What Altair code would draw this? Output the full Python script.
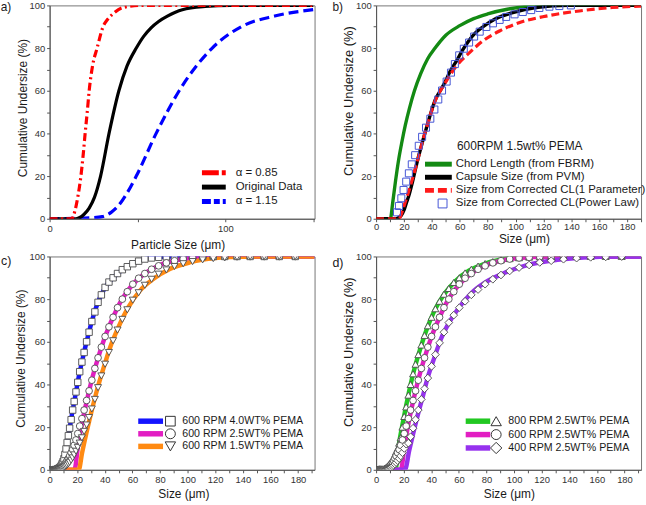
import altair as alt
import pandas as pd

FONT = "Liberation Sans"

# ---------------- a) simulated size distributions ----------------
A_SIZE_085 = [0, 12.5, 14.5, 16.2, 17.8, 19.1, 20.2, 21.4, 22.5, 24.5, 27.0, 30.4, 33.0, 36.0, 41.7, 53.0, 150]
A_CUM_085 = [0, 0, 4, 11, 20, 30, 40, 50, 60, 72, 80, 90, 93.5, 96, 99, 100, 100]
A_SIZE_ORIG = [0, 15, 19.5, 22.5, 25.5, 29, 33.8, 39.4, 44, 49.3, 53.5, 57.7, 62, 67, 75.5, 88.5, 103, 150]
A_CUM_ORIG = [0, 0, 2, 5, 10, 20, 40, 60, 71.5, 80, 85.5, 89.5, 92.5, 95, 98, 99.5, 100, 100]
A_SIZE_115 = [0, 25, 30, 35, 39, 44, 49.3, 60.6, 73.7, 92.5, 109, 128, 150]
A_CUM_115 = [0, 0.5, 1, 3, 6, 12, 20, 40, 60, 80, 90, 95, 98]

# ---------------- b) 600RPM 1.5wt% PEMA ----------------
B_SIZE_FBRM = [0, 10.2, 12, 14, 16, 18.5, 21, 24, 27.5, 32, 37, 42.3, 50, 60, 70, 80, 95, 110, 130, 190]
B_CUM_FBRM = [0, 0, 8, 18, 27, 36, 44, 52, 60, 68, 75, 80, 86, 90.5, 93.8, 96, 98.3, 99.6, 100, 100]
B_SIZE_PVM = [0, 14, 16, 18, 20, 22, 23.3, 26, 29.2, 32, 36.3, 39, 42.2, 46, 49.4, 53, 57.7, 62, 66, 71, 76.7, 85, 98, 114.7, 138, 190]
B_CUM_PVM = [0, 0, 0.5, 1.5, 4, 8, 10.4, 17, 26, 33, 43, 49, 55.4, 60, 64, 69, 74, 79, 83, 87, 90, 93.5, 96.6, 99, 100, 100]
B_SIZE_1P = [0, 16.5, 18, 20, 23, 26, 29.2, 32, 36.3, 42.2, 49.4, 57.7, 67.2, 76.7, 88.5, 103, 122, 145.8, 169.5, 190]
B_CUM_1P = [0, 0, 2, 6, 12, 18.5, 26, 33, 43, 55, 63.5, 71.7, 78, 83.4, 88, 92, 95, 97.4, 99, 99.7]
B_SIZE_PL = [15, 16.4, 18.1, 19.7, 21.6, 23.5, 25.6, 28, 30.6, 33, 35.8, 38.9, 41.8, 44.6, 47.3, 50.6, 53.7,
             56.5, 59.6, 62.9, 66.7, 70.3, 74.3, 79.1, 83.8, 88.6, 93.3, 99.3, 105.2, 111.2, 117.1, 124.3, 131.4, 139.7]
B_CUM_PL = [3, 6, 9.6, 13.5, 17.4, 21.3, 25.5, 29.8, 34.2, 38.4, 42.7, 46.9, 51.2, 55.9, 60.1, 64.3, 68.5,
            72.5, 76.6, 79.7, 82.6, 85.4, 87.7, 89.9, 91.6, 93.2, 94.6, 95.8, 96.9, 97.8, 98.8, 99.4, 99.7, 100]

# ---------------- c) and d) measured classes (um) ----------------
BINS = [1.9, 2.1, 2.2, 2.4, 2.5, 2.7, 2.9, 3.1, 3.3, 3.5, 3.8, 4.0, 4.3, 4.6, 4.9, 5.3, 5.6, 6.0, 6.5, 6.9,
        7.4, 7.9, 8.5, 9.0, 9.7, 10.4, 11.1, 11.9, 12.7, 13.6, 14.5, 15.6, 16.7, 17.8, 19.1, 20.4, 21.8, 23.4,
        25.0, 26.8, 28.6, 30.6, 32.8, 35.1, 37.5, 40.2, 43.0, 46.0, 49.2, 52.7, 56.3, 60.3, 64.5, 69.0, 73.9,
        79.0, 84.6, 90.5, 96.8, 103.6, 110.9, 118.6, 126.9, 135.8, 145.3, 155.5, 166.4, 178.0]

# 600 RPM 4.0WT% PEMA
C_FIT_40_X = [0, 9.1, 11.5, 13.9, 16.3, 18.7, 21.1, 24.2, 27.6, 31.4, 35.5, 40.3, 46.3, 53.5, 61.9, 71.5, 84.7, 192]
C_FIT_40_Y = [0, 0, 8.6, 17, 26.4, 35, 43.5, 52.9, 62.2, 71.5, 79.3, 85.5, 90.2, 94.1, 97.2, 99.2, 100, 100]
C_DATA_40 = [0, 0, 0, 0, 0, 0, 0, 0, 0, 0, 0, 0, 0, 0, 0,
             0.2, 0.3, 0.4, 0.6, 0.8, 1.0, 1.4, 2.0, 2.8, 3.8, 5.2, 7.2, 9.8, 12.8, 16, 19.5, 23.5, 28, 32,
             36.5, 41, 46, 50.5, 55, 60, 64.5, 69.5, 74, 78.5, 82, 85.5, 88, 90, 92, 93.8, 95.2, 96.6, 97.8,
             98.8, 99.3, 99.6, 99.8, 99.9, 100, 100, 100, 100, 100, 100, 100, 100, 100, 100]

# 600 RPM 2.5WT% PEMA (appears in c and d)
FIT_600_25_X = [0, 18, 20.5, 23.4, 27, 30.5, 35.3, 40.1, 46, 52.5, 60.3, 69.3, 80, 95, 112, 125, 192]
FIT_600_25_Y = [0, 0, 10.7, 21.6, 32.5, 42, 52.8, 62.2, 71.5, 80, 87, 92.2, 96, 98.6, 99.7, 100, 100]
DATA_600_25 = [0, 0, 0, 0, 0, 0, 0, 0, 0, 0, 0, 0, 0, 0, 0, 0, 0, 0,
               0.2, 0.3, 0.5, 0.7, 1.0, 1.3, 1.7, 2.2, 2.8, 3.5, 4.3, 5.3, 6.5, 8, 9.5, 11.5, 14, 17, 20.5,
               24, 28, 32.5, 37, 42, 47.5, 52.5, 57.5, 62.5, 67, 71.5, 76, 80, 83.5, 87, 89.8, 92, 94, 95.6,
               97, 98, 98.8, 99.3, 99.6, 99.8, 99.9, 100, 100, 100, 100, 100]

# 600 RPM 1.5WT% PEMA
C_FIT_15_X = [0, 21.1, 23.5, 26.6, 30, 34.3, 38.6, 43.9, 49.9, 57.1, 65.5, 75.1, 87.1, 101.5, 118.3, 137.5, 160, 192]
C_FIT_15_Y = [0, 0, 7.8, 17.1, 26.4, 37.3, 46.7, 57.5, 66.9, 76.2, 84, 89.4, 94.1, 97.2, 99.1, 99.8, 100, 100]
C_DATA_15 = [0, 0, 0, 0, 0, 0, 0, 0, 0, 0, 0, 0, 0, 0, 0, 0, 0, 0, 0, 0, 0,
             0.2, 0.3, 0.5, 0.7, 1.0, 1.3, 1.7, 2.2, 2.8, 3.5, 4.5, 5.6, 7, 8.7, 10.5, 12.5, 15, 18, 21, 24.5,
             28.5, 33, 38.5, 44, 49.5, 55, 60.5, 65.5, 70.5, 75, 79.5, 83, 86.5, 89.3, 91.7, 93.7, 95.3, 96.6,
             97.6, 98.4, 99, 99.4, 99.7, 99.9, 100, 100, 100]

# 800 RPM 2.5WT% PEMA
D_FIT_800_X = [0, 14, 16.2, 19.7, 23.3, 26.8, 31.6, 36.3, 42.3, 49.4, 57.7, 67.2, 79.1, 93.3, 112.4, 130, 192]
D_FIT_800_Y = [0, 0, 10.6, 23.1, 34.8, 44.9, 55.9, 65.2, 74.6, 82.4, 88.6, 93.3, 96.7, 98.8, 99.8, 100, 100]
D_DATA_800 = [0, 0, 0, 0, 0, 0, 0, 0, 0, 0, 0, 0, 0, 0, 0, 0,
              0.2, 0.3, 0.4, 0.5, 0.6, 0.8, 1.0, 1.3, 1.7, 2.2, 3, 4, 5.5, 7, 8.5, 10, 12.5, 15, 20, 25, 29.5,
              35, 40, 45, 49.5, 54, 58.5, 63, 67.5, 71.5, 75.5, 79, 82.3, 85, 87.8, 90, 92.3, 94, 95.5, 96.7,
              97.6, 98.4, 99, 99.4, 99.7, 99.9, 100, 100, 100, 100, 100, 100]

# 400 RPM 2.5WT% PEMA
D_FIT_400_X = [0, 20.9, 24, 26.8, 30.4, 34, 37.5, 42.3, 47, 53, 60.1, 68.4, 79.1, 91, 107.6, 126.6, 150.4, 174, 192]
D_FIT_400_Y = [0, 0, 9, 16.8, 26.2, 34.8, 43.4, 52.7, 61.3, 69.1, 76.1, 82.4, 87.8, 91.7, 95.6, 98, 99.5, 100, 100]
D_DATA_400 = [0, 0, 0, 0, 0, 0, 0, 0, 0, 0, 0, 0, 0, 0, 0, 0, 0, 0, 0, 0,
              0.2, 0.3, 0.4, 0.5, 0.7, 0.9, 1.2, 1.6, 2.1, 2.7, 3.4, 4.3, 5.3, 6.5, 8, 10, 12, 12.5, 15.5,
              19.5, 23.5, 28, 33, 38, 43, 48.5, 54, 59.5, 64.5, 69, 72.5, 76, 79, 82, 84.5, 87, 89.3, 91.3,
              93.2, 94.8, 96, 97.2, 98, 98.7, 99.2, 99.6, 99.8, 100]

ONE = pd.DataFrame({"k": [0]})
W, H = 267, 215
YT = "Cumulative Undersize (%)"
XT = "Size (\u03bcm)"


def enc(dom, xvals, step, xtitle, xtx, xty, ytx, yty, ysize, xpad=2):
    x = alt.X("x:Q", scale=alt.Scale(domain=dom, nice=False, zero=False),
              axis=alt.Axis(values=xvals, labelExpr=f"datum.value % {step} === 0 ? datum.label : ''",
                            title=xtitle, titleX=xtx, titleY=xty, titleBaseline="middle",
                            titleFontSize=12, labelPadding=xpad))
    y = alt.Y("y:Q", scale=alt.Scale(domain=[0, 100], nice=False),
              axis=alt.Axis(values=list(range(0, 101, 10)),
                            labelExpr="datum.value % 20 === 0 ? datum.label : ''",
                            title=YT, titleX=ytx, titleY=yty, titleBaseline="middle",
                            titleFontSize=ysize))
    return x, y


def line(xs, ys, color, width, X, Y, dash=None):
    kw = dict(color=color, strokeWidth=width, interpolate="monotone", clip=True)
    if dash:
        kw["strokeDash"] = dash
    return alt.Chart(pd.DataFrame({"x": xs, "y": ys})).mark_line(**kw).encode(x=X, y=Y)


def points(xs, ys, shape, size, X, Y, stroke="#4a4a4a", fill="white", sw=0.9):
    df = pd.DataFrame({"x": xs, "y": ys})
    if fill is None:
        m = alt.Chart(df).mark_point(shape=shape, size=size, color=stroke, strokeWidth=sw,
                                     opacity=1, clip=True)
    else:
        m = alt.Chart(df).mark_point(shape=shape, size=size, filled=True, fill=fill, stroke=stroke,
                                     strokeWidth=sw, opacity=1, clip=True)
    return m.encode(x=X, y=Y)


def key_line(x1, x2, y, color, width, dash=None):
    kw = dict(color=color, strokeWidth=width)
    if dash:
        kw["strokeDash"] = dash
    return alt.Chart(ONE).mark_rule(**kw).encode(x=alt.value(x1), x2=alt.value(x2), y=alt.value(y))


def key_symbol(x, y, shape, size, stroke="#333", fill="white", sw=1.0):
    if fill is None:
        m = alt.Chart(ONE).mark_point(shape=shape, size=size, color=stroke, strokeWidth=sw, opacity=1)
    else:
        m = alt.Chart(ONE).mark_point(shape=shape, size=size, filled=True, fill=fill, stroke=stroke,
                                      strokeWidth=sw, opacity=1)
    return m.encode(x=alt.value(x), y=alt.value(y))


def label(x, y, text, size, align="left"):
    return alt.Chart(ONE).mark_text(text=text, align=align, baseline="middle", font=FONT,
                                    fontSize=size, color="#1a1a1a").encode(x=alt.value(x), y=alt.value(y))


# ---------------- panel a ----------------
Xa, Ya = enc([0, 150.7], [0, 50, 100, 150], 100, "Particle Size (\u03bcm)", 129, 26, -27.6, 103, 12)
RED_DD = [8, 3.5, 2, 3.5]
BLUE_D = [10, 5]
pa = alt.layer(
    line(A_SIZE_115, A_CUM_115, "#0000ff", 3.2, Xa, Ya, BLUE_D),
    line(A_SIZE_ORIG, A_CUM_ORIG, "#000000", 3.2, Xa, Ya),
    line(A_SIZE_085, A_CUM_085, "#ff0000", 3.2, Xa, Ya, RED_DD),
    key_line(153.5, 177.5, 168.6, "#ff0000", 5, [17, 3, 4, 3]),
    key_line(153.5, 177.5, 183.1, "#000000", 5),
    key_line(153.5, 177.5, 197.6, "#0000ff", 5, [9, 3, 6, 3]),
    label(187.5, 168.6, "\u03b1 = 0.85", 11.5),
    label(187.5, 183.1, "Original Data", 11.5),
    label(187.5, 197.6, "\u03b1 = 1.15", 11.5),
    label(-49.3, 1.7, "a)", 12),
).properties(width=W, height=H)

# ---------------- panel b ----------------
TICKS_190 = list(range(0, 191, 10))
Xb, Yb = enc([0, 190], TICKS_190, 20, XT, 149, 19.5, -27.4, 96, 13, xpad=0)
pb = alt.layer(
    line(B_SIZE_FBRM, B_CUM_FBRM, "#138a13", 3.4, Xb, Yb),
    line(B_SIZE_PVM, B_CUM_PVM, "#000000", 3.4, Xb, Yb),
    line(B_SIZE_1P, B_CUM_1P, "#ff1a1a", 3.2, Xb, Yb, [8, 4]),
    points(B_SIZE_PL, B_CUM_PL, "square", 50, Xb, Yb, stroke="#4656d6", fill=None, sw=1),
    label(144.8, 141.7, "600RPM 1.5wt% PEMA", 12, align="center"),
    key_line(49.3, 76.3, 160, "#138a13", 5),
    key_line(49.3, 76.3, 173.2, "#000000", 5),
    key_line(49.3, 76.3, 186.4, "#ff1a1a", 5, [9, 4]),
    key_symbol(67, 199.6, "square", 80, stroke="#4656d6", fill=None, sw=1),
    label(80.3, 160, "Chord Length (from FBRM)", 11.5),
    label(80.3, 173.2, "Capsule Size (from PVM)", 11.5),
    label(80.3, 186.4, "Size from Corrected CL(1 Parameter)", 11.5),
    label(80.3, 199.6, "Size from Corrected CL(Power Law)", 11.5),
    label(-44, 1.7, "b)", 12),
).properties(width=W, height=H)

# ---------------- panel c ----------------
Xc, Yc = enc([0, 192], TICKS_190, 20, XT, 134.8, 24.3, -29, 102.5, 12)
BLUE, MAGENTA, ORANGE = "#1414ff", "#e21ec2", "#ff8a12"
GREEN, PURPLE = "#22c822", "#9632ee"
pc = alt.layer(
    line(C_FIT_40_X, C_FIT_40_Y, BLUE, 4.5, Xc, Yc),
    line(FIT_600_25_X, FIT_600_25_Y, MAGENTA, 4.5, Xc, Yc),
    line(C_FIT_15_X, C_FIT_15_Y, ORANGE, 4.5, Xc, Yc),
    points(BINS, C_DATA_40, "square", 42, Xc, Yc),
    points(BINS, DATA_600_25, "circle", 46, Xc, Yc),
    points(BINS, C_DATA_15, "triangle-down", 50, Xc, Yc),
    key_line(89.3, 114.3, 166, BLUE, 5.5),
    key_line(89.3, 114.3, 178.7, MAGENTA, 5.5),
    key_line(89.3, 114.3, 191.4, ORANGE, 5.5),
    key_symbol(121.7, 166, "square", 95),
    key_symbol(121.7, 178.7, "circle", 100),
    key_symbol(121.7, 191.4, "triangle-down", 110),
    label(133.7, 166, "600 RPM 4.0WT% PEMA", 10.7),
    label(133.7, 178.7, "600 RPM 2.5WT% PEMA", 10.7),
    label(133.7, 191.4, "600 RPM 1.5WT% PEMA", 10.7),
    label(-49, 4.7, "c)", 12.5),
).properties(width=W, height=H)

# ---------------- panel d ----------------
Xd, Yd = enc([0, 192], TICKS_190, 20, XT, 133.8, 24, -27.4, 96, 13)
pd_ = alt.layer(
    line(D_FIT_800_X, D_FIT_800_Y, GREEN, 4.5, Xd, Yd),
    line(FIT_600_25_X, FIT_600_25_Y, MAGENTA, 4.5, Xd, Yd),
    line(D_FIT_400_X, D_FIT_400_Y, PURPLE, 4.5, Xd, Yd),
    points(BINS, D_DATA_800, "triangle-up", 50, Xd, Yd),
    points(BINS, DATA_600_25, "circle", 46, Xd, Yd),
    points(BINS, D_DATA_400, "diamond", 60, Xd, Yd),
    key_line(90.3, 115, 166, GREEN, 5.5),
    key_line(90.3, 115, 179.5, MAGENTA, 5.5),
    key_line(90.3, 115, 193, PURPLE, 5.5),
    key_symbol(121, 166, "triangle-up", 110),
    key_symbol(121, 179.5, "circle", 100),
    key_symbol(121, 193, "diamond", 130),
    label(133.3, 166, "800 RPM 2.5WT% PEMA", 10.7),
    label(133.3, 179.5, "600 RPM 2.5WT% PEMA", 10.7),
    label(133.3, 193, "400 RPM 2.5WT% PEMA", 10.7),
    label(-44, 7, "d)", 12.5),
).properties(width=W, height=H)

chart = alt.concat(
    pa, pb, pc, pd_, columns=2, spacing={"row": 38, "column": 62}, bounds="flush"
).properties(
    padding={"left": 0, "top": -2.5, "right": 0, "bottom": 0},
    background="white",
).configure_view(
    stroke="#777777", strokeWidth=1
).configure_axis(
    grid=False, domainColor="#555555", tickColor="#555555", tickSize=3, labelFlush=False,
    labelOverlap=False, labelFont=FONT, labelFontSize=9.5, labelColor="#333333", labelPadding=2,
    titleFont=FONT, titleFontWeight="normal", titleColor="#1a1a1a",
)

chart.save("out.html", embed_options={"renderer": "svg", "actions": False})
